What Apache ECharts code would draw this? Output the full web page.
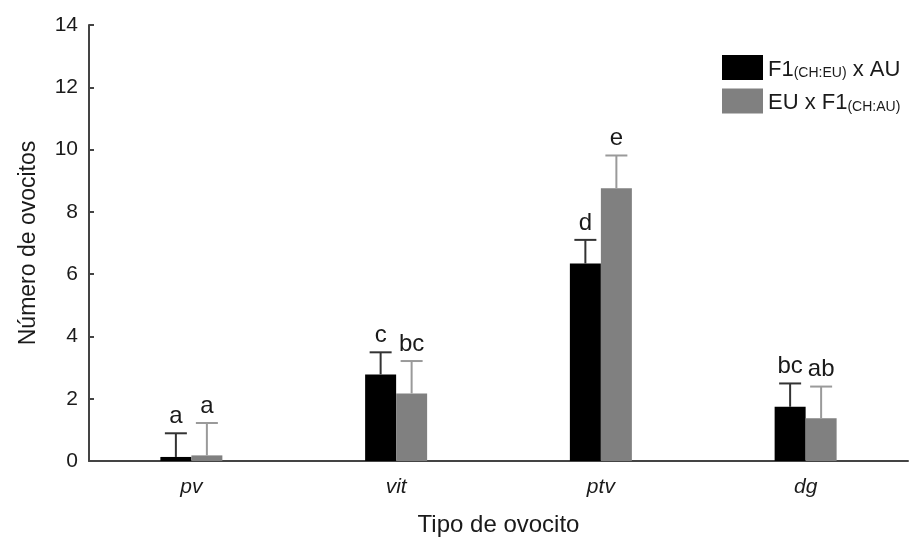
<!DOCTYPE html>
<html>
<head>
<meta charset="utf-8">
<script src="https://cdn.jsdelivr.net/npm/echarts@6/dist/echarts.min.js"></script>
<style>
  html, body { margin: 0; padding: 0; background: #fff; }
  #chart { width: 911px; height: 542px; }
</style>
</head>
<body>
<div id="chart"></div>
<script>
// Oocyte counts per type for the two crosses (mean and upper error bound)
const categories = ['pv', 'vit', 'ptv', 'dg'];
const seriesNames = ['F1(CH:EU) x AU', 'EU x F1(CH:AU)'];
const meansA = [0.13, 2.78, 6.34, 1.74];
const errTopA = [0.89, 3.49, 7.10, 2.49];
const lettersA = ['a', 'c', 'd', 'bc'];
const meansB = [0.18, 2.17, 8.76, 1.37];
const errTopB = [1.22, 3.21, 9.81, 2.39];
const lettersB = ['a', 'bc', 'e', 'ab'];
const yTicks = [0, 2, 4, 6, 8, 10, 12, 14];

const FONT = 'Liberation Sans, Arial, sans-serif';
const TEXT = '#1a1a1a';
const BAR_W = 31;

function errorRenderer(side, color, width, letters) {
  return function (params, api) {
    const i = api.value(0);
    const base = api.coord([i, api.value(1)]);
    const top = api.coord([i, api.value(2)]);
    const x = base[0] + side * BAR_W / 2;
    const cap = 11;
    return {
      type: 'group',
      children: [
        { type: 'line', shape: { x1: x, y1: base[1], x2: x, y2: top[1] },
          style: { stroke: color, lineWidth: width } },
        { type: 'line', shape: { x1: x - cap, y1: top[1], x2: x + cap, y2: top[1] },
          style: { stroke: color, lineWidth: width } },
        { type: 'text', x: x, y: top[1] - 5,
          style: { text: letters[params.dataIndex], fill: TEXT, font: '24px ' + FONT,
                   textAlign: 'center', textVerticalAlign: 'bottom' } }
      ]
    };
  };
}

const chart = echarts.init(document.getElementById('chart'));
chart.setOption({
  animation: false,
  backgroundColor: '#fff',
  grid: { left: 89, right: 3, top: 25, bottom: 78 },
  legend: {
    orient: 'vertical',
    left: 717, top: 50,
    itemWidth: 41, itemHeight: 25, itemGap: 8,
    icon: 'rect',
    data: seriesNames,
    formatter: function (name) {
      return name === seriesNames[0]
        ? '{n|F1}{s|(CH:EU)}{n| x AU}'
        : '{n|EU x F1}{s|(CH:AU)}';
    },
    textStyle: {
      color: TEXT,
      rich: {
        n: { fontSize: 22, fontFamily: FONT, color: TEXT, verticalAlign: 'bottom', lineHeight: 26 },
        s: { fontSize: 14, fontFamily: FONT, color: TEXT, verticalAlign: 'bottom', lineHeight: 18 }
      }
    }
  },
  xAxis: {
    type: 'category',
    data: categories,
    boundaryGap: true,
    name: 'Tipo de ovocito',
    nameLocation: 'middle',
    nameGap: 52,
    nameTextStyle: { fontSize: 24, fontFamily: FONT, color: TEXT },
    axisLine: { lineStyle: { color: '#444', width: 2 } },
    axisTick: { show: false },
    axisLabel: { fontSize: 21, fontFamily: FONT, fontStyle: 'italic', color: TEXT, margin: 16 }
  },
  yAxis: {
    type: 'value',
    min: yTicks[0], max: yTicks[yTicks.length - 1], interval: 2,
    name: 'Número de ovocitos',
    nameLocation: 'middle',
    nameGap: 49,
    nameTextStyle: { fontSize: 23, fontFamily: FONT, color: TEXT },
    axisLine: { show: true, lineStyle: { color: '#444', width: 2 } },
    axisTick: { show: true, inside: true, length: 5, lineStyle: { color: '#444', width: 2 } },
    splitLine: { show: false },
    axisLabel: { fontSize: 21, fontFamily: FONT, color: TEXT, margin: 11 }
  },
  series: [
    { name: seriesNames[0], type: 'bar', data: meansA, barWidth: BAR_W, barGap: '0%',
      itemStyle: { color: '#000' } },
    { name: seriesNames[1], type: 'bar', data: meansB, barWidth: BAR_W, barGap: '0%',
      itemStyle: { color: '#808080' } },
    { type: 'custom', z: 5, encode: { x: 0, y: 2 },
      renderItem: errorRenderer(-1, '#333', 2, lettersA),
      data: categories.map((c, i) => [i, meansA[i], errTopA[i]]) },
    { type: 'custom', z: 5, encode: { x: 0, y: 2 },
      renderItem: errorRenderer(1, '#9a9a9a', 2, lettersB),
      data: categories.map((c, i) => [i, meansB[i], errTopB[i]]) }
  ]
});
</script>
</body>
</html>
